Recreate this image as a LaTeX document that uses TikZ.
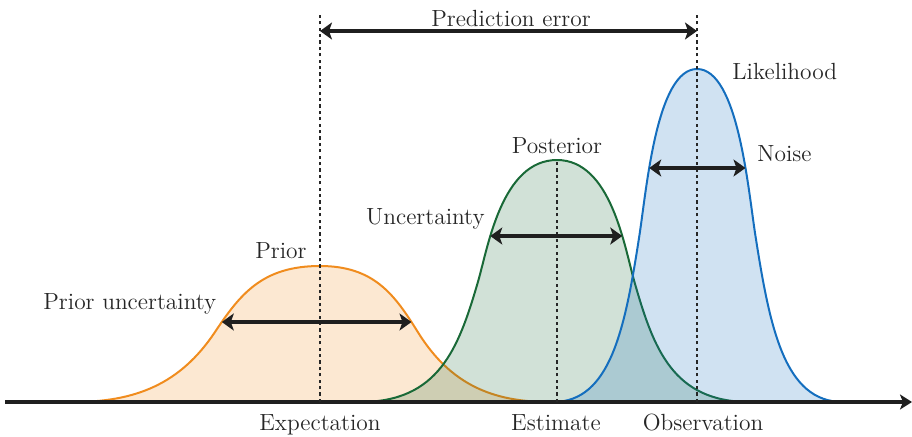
\documentclass[tikz,border=0pt]{standalone}
\usetikzlibrary{arrows.meta,intersections}
\definecolor{priororange}{RGB}{240,140,30}
\definecolor{postgreen}{RGB}{25,105,55}
\definecolor{likeblue}{RGB}{20,110,190}
\tikzset{
    density/.style={
        draw=#1,
        fill=#1,
        line width=1pt,
        fill opacity=0.2
    },
    marker line/.style={
        line width=0.9pt,
        black!85,
        dash pattern=on 1.6pt off 1.6pt
    },
    spread arrow/.style={
        line width=2pt,
        black!88,
        {Stealth[length=6pt,width=8.5pt,inset=1.5pt]}-{Stealth[length=6pt,width=8.5pt,inset=1.5pt]}
    },
    axis line/.style={
        line width=2pt,
        black!88,
        -{Stealth[length=6pt,width=7.5pt,inset=1.5pt]}
    },
    label text/.style={
        inner sep=0pt,
        text=black!85,
        font=\fontsize{11.7}{14}\selectfont
    }
}

\begin{document}
\begin{tikzpicture}[x=0.5pt,y=0.5pt]
\useasboundingbox (0,-34) rectangle (912,402);

% the three densities
\draw[density=priororange, name path=prior]
    (73,0) .. controls (135,0) and (180,17.5) .. (215,70)
    .. controls (240,107.5) and (262,136) .. (320,136)
    .. controls (374,136) and (394.5,107.5) .. (417.8,70)
    .. controls (450.4,17.5) and (492.3,0) .. (550,0) -- cycle;
\draw[density=postgreen, name path=posterior]
    (360,0) .. controls (438.8,0) and (458.5,53.2) .. (478.2,121)
    .. controls (488,154.9) and (501.8,242) .. (557,242)
    .. controls (611,242) and (624.5,154.9) .. (634.2,121)
    .. controls (653.5,53.2) and (672.8,0) .. (750,0) -- cycle;
\draw[density=likeblue, name path=likelihood]
    (553,0) .. controls (610.6,0) and (625,73.3) .. (639.4,166.5)
    .. controls (646.6,213.1) and (656.7,333) .. (697,333)
    .. controls (737.9,333) and (748.1,213.1) .. (755.4,166.5)
    .. controls (770,73.3) and (784.6,0) .. (843,0) -- cycle;

% axis
\coordinate (axis west) at (5,0);
\coordinate (axis east) at (912,0);
\draw[axis line] (axis west) -- (axis east);

% markers
\coordinate (expectation) at (320,0);
\coordinate (expectation top) at (320,388);
\coordinate (estimate) at (557,0);
\coordinate (estimate top) at (557,242);
\coordinate (observation) at (697,0);
\coordinate (observation top) at (697,388);
\draw[marker line] (expectation) -- (expectation top);
\draw[marker line] (estimate) -- (estimate top);
\draw[marker line] (observation) -- (observation top);

% spreads
\path[name path=priorlvl] (0,80) -- (912,80);
\path[name path=posteriorlvl] (0,166) -- (912,166);
\path[name path=likelihoodlvl] (0,234) -- (912,234);
\path[name intersections={of=prior and priorlvl, sort by=priorlvl, by={prior west,prior east}}];
\path[name intersections={of=posterior and posteriorlvl, sort by=posteriorlvl, by={posterior west,posterior east}}];
\path[name intersections={of=likelihood and likelihoodlvl, sort by=likelihoodlvl, by={likelihood west,likelihood east}}];
\draw[spread arrow] (prior west) -- (prior east);
\draw[spread arrow] (posterior west) -- (posterior east);
\draw[spread arrow] (likelihood west) -- (likelihood east);

\coordinate (error west) at (320,371);
\coordinate (error east) at (697,371);
\draw[spread arrow] (error west) -- (error east);

% labels
\node[label text, anchor=base] (error label) at (511,376) {Prediction error};
\node[label text, anchor=base west] (likelihood label) at (732,323) {Likelihood};
\node[label text, anchor=base west] (noise label) at (757,241) {Noise};
\node[label text, anchor=base] (posterior label) at (557,249) {Posterior};
\node[label text, anchor=base east] (uncertainty label) at (485,178) {Uncertainty};
\node[label text, anchor=base east] (prior label) at (307,144) {Prior};
\node[label text, anchor=base west] (prior spread label) at (43,93) {Prior uncertainty};
\node[label text, anchor=base] (expectation label) at (320,-28) {Expectation};
\node[label text, anchor=base] (estimate label) at (556,-28) {Estimate};
\node[label text, anchor=base] (observation label) at (703,-28) {Observation};
\end{tikzpicture}
\end{document}
